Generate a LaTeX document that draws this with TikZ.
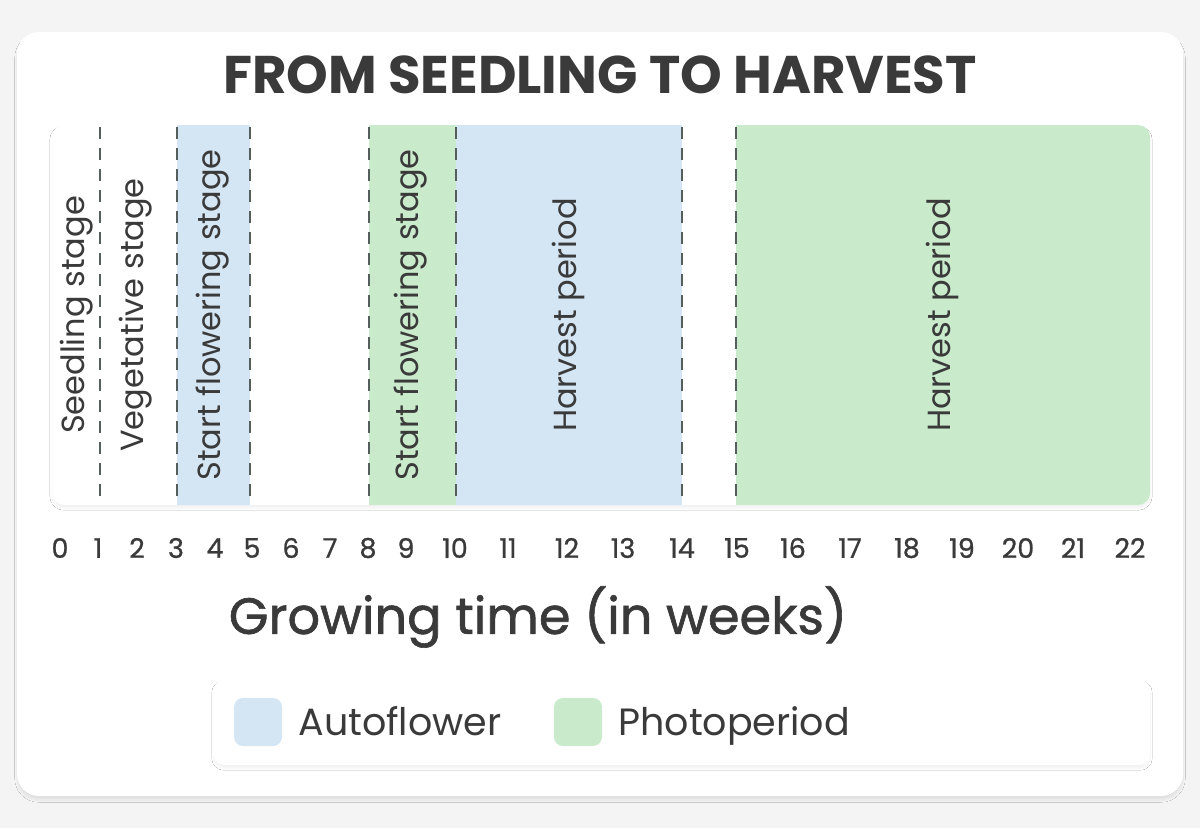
\documentclass[tikz,border=0pt]{standalone}
\usepackage{fontspec}
\setmainfont{Poppins}
\newfontfamily\mediumfont[FakeBold=0.8]{Poppins}
\newfontfamily\semibold[FakeBold=1.2]{Poppins}
\usetikzlibrary{positioning, shadows.blur}

\definecolor{inkgray}{RGB}{58,58,58}
\definecolor{autoblue}{RGB}{212,229,244}
\definecolor{photogreen}{RGB}{201,235,203}
\definecolor{dashgray}{RGB}{84,94,92}
\definecolor{pagegray}{RGB}{244,244,244}

\begin{document}
\begin{tikzpicture}[
    x=1pt, y=-1pt,
    card/.style={fill=white, rounded corners=22pt, blur shadow={shadow xshift=0pt, shadow yshift=-4pt, shadow blur steps=12, shadow opacity=8}},
    panel/.style={fill=white, rounded corners=12pt, blur shadow={shadow xshift=0pt, shadow yshift=-3pt, shadow blur steps=8, shadow opacity=6}},
    divider/.style={dashgray, line width=2.2pt, dash pattern=on 12pt off 9pt},
    stage/.style={rotate=90, text=inkgray, font=\fontsize{32}{36}\selectfont},
    tick/.style={text=inkgray, font=\mediumfont\fontsize{27}{30}\selectfont},
    swatch/.style={rounded corners=9pt, minimum width=48pt, minimum height=48pt, inner sep=0pt},
    keylabel/.style={text=inkgray, font=\fontsize{38}{42}\selectfont, inner sep=0pt, text height=26pt, text depth=0pt}
]
    % Page and card
    \fill[pagegray] (0,0) rectangle (1200,828);
    \path[card] (17,32) rectangle (1183,796);

    % Title
    \node[text=inkgray, font=\bfseries\fontsize{53}{58}\selectfont] (title) at (600,75) {FROM SEEDLING TO HARVEST};

    % Chart panel with coloured bands
    \path[panel] (52,125) rectangle (1150,505);
    \begin{scope}
        \clip[rounded corners=12pt] (52,125) rectangle (1150,505);
        \fill[autoblue] (177,125) rectangle (250,505);
        \fill[autoblue] (456,125) rectangle (682,505);
        \fill[photogreen] (369,125) rectangle (456,505);
        \fill[photogreen] (736,125) rectangle (1150,505);
    \end{scope}

    % Week dividers
    \foreach \xd in {100,177,250,369,456,682,736}
        \draw[divider] (\xd,127) -- (\xd,503);

    % Stage labels
    \node[stage] (seedling) at (77,315) {Seedling stage};
    \node[stage] (vegetative) at (136,315) {Vegetative stage};
    \node[stage] (autoflowering) at (213,315) {Start flowering stage};
    \node[stage] (photoflowering) at (411,315) {Start flowering stage};
    \node[stage] (autoharvest) at (568,315) {Harvest period};
    \node[stage] (photoharvest) at (942,315) {Harvest period};

    % Week numbers
    \foreach \w/\xt in {0/60,1/98,2/137,3/176,4/215,5/252,6/291,7/330,8/368,9/406,10/455,11/508,12/567,13/623,14/682,15/737,16/793,17/850,18/907,19/962,20/1018,21/1073,22/1130}
        \node[tick] (w\w) at (\xt,548) {\w};

    % Axis title
    \node[text=inkgray, font=\semibold\fontsize{51}{56}\selectfont] (axis) at (538,617) {Growing time (in weeks)};

    % Legend
    \path[panel, rounded corners=10pt] (214,680) rectangle (1150,765);
    \node[swatch, fill=autoblue] (autoKey) at (258,722) {};
    \node[keylabel, right=16pt of autoKey] (autoLabel) {Autoflower};
    \node[swatch, fill=photogreen] (photoKey) at (578,722) {};
    \node[keylabel, right=16pt of photoKey] (photoLabel) {Photoperiod};
\end{tikzpicture}
\end{document}
